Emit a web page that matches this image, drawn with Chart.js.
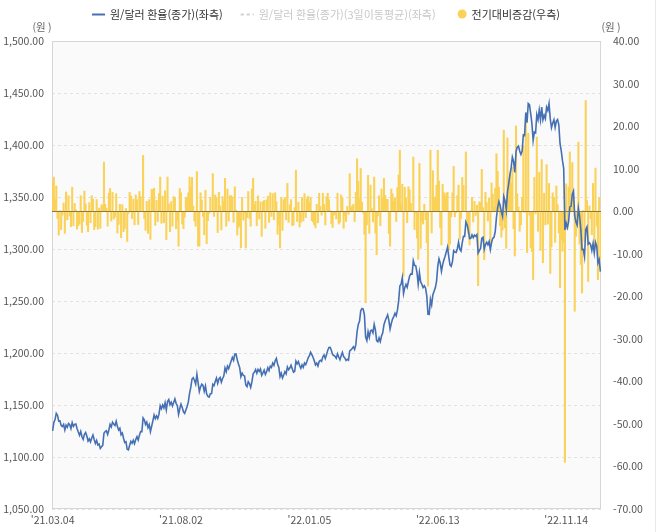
<!DOCTYPE html>
<html lang="ko">
<head>
    <meta charset="UTF-8">
    <title>원/달러 환율</title>
    <script src="https://cdn.jsdelivr.net/npm/chart.js@4.4.0/dist/chart.umd.min.js"></script>
    <style>
        body { margin: 0; background: #fff; }
    </style>
</head>
<body>
    <canvas id="myChart" width="658" height="532"></canvas>

    <script type="text/javascript">
        // Seoul FX market trading days, 2021.03.04 ~ 2022.12.22
        var startDate = '2021-03-04';
        var endDate = '2022-12-22';
        var holidays = ['2021-05-05', '2021-05-19', '2021-08-16', '2021-09-20', '2021-09-21', '2021-09-22',
            '2021-10-04', '2021-10-11', '2021-12-31', '2022-01-31', '2022-02-01', '2022-02-02', '2022-03-01',
            '2022-03-09', '2022-05-05', '2022-06-01', '2022-06-06', '2022-08-15', '2022-09-09', '2022-09-12',
            '2022-10-03', '2022-10-10'];
        var tickDates = ["'21.03.04", "'21.08.02", "'22.01.05", "'22.06.13", "'22.11.14"];

        // 원/달러 환율(종가)
        var closeRate = [
            1125.1,1133.2,1136.0,1142.0,1140.2,1134.5,1134.7,1130.3,1129.3,1131.3,1126.0,1130.6,1128.5,1132.2,1131.0,1127.3,1133.0,1129.5,1131.4,1131.8,
            1127.5,1124.0,1120.9,1124.6,1119.5,1117.0,1121.8,1123.6,1120.2,1115.3,1117.4,1114.6,1118.3,1121.2,1116.8,1113.1,1115.9,1111.6,1112.4,1108.3,1109.9,1111.2,
            1122.8,1124.5,1125.3,1121.7,1126.0,1131.4,1129.0,1133.5,1131.6,1130.2,1134.4,1129.2,1126.0,1127.7,1121.4,1123.0,1118.1,1113.9,1114.6,
            1107.4,1106.8,1111.3,1115.0,1113.2,1116.1,1112.8,1116.7,1119.5,1116.3,1121.0,1124.5,1124.4,1137.6,1135.8,1131.2,1133.6,1128.3,1131.1,1124.4,1129.6,1134.8,
            1140.3,1136.9,1139.5,1137.0,1141.2,1149.3,1146.4,1150.0,1147.2,1152.1,1145.3,1153.4,1155.2,1150.3,1152.6,1149.0,1152.5,1155.8,1151.6,1149.3,1141.0,1146.4,
            1150.8,1147.7,1143.5,1142.0,1145.2,1148.6,1153.0,1161.1,1166.9,1174.9,1176.2,1173.8,1170.2,1179.6,1171.3,1163.0,1167.4,1170.1,1168.8,1163.2,1168.2,
            1160.5,1158.2,1157.6,1160.9,1161.0,1169.9,1168.6,1172.5,1175.8,1170.7,1175.2,1176.5,1172.0,1175.5,1177.8,1185.6,1182.0,1187.3,1184.9,
            1188.6,1192.3,1195.7,1193.0,1198.8,1199.1,1193.4,1189.5,1186.0,1177.3,1180.6,1178.4,1177.9,1169.2,1167.6,1172.3,1170.5,1166.9,1172.2,
            1180.0,1181.6,1184.0,1180.5,1184.2,1182.3,1184.6,1178.6,1180.9,1183.5,1179.4,1182.1,1185.7,1183.0,1187.4,1186.1,1190.3,1188.2,1192.6,1194.9,1189.4,1186.0,
            1177.3,1180.6,1176.0,1178.8,1182.1,1180.0,1186.6,1183.9,1185.5,1188.3,1184.8,1181.5,1182.4,1192.1,1189.6,1191.8,1188.0,1185.3,1188.6,1186.2,1190.4,1188.8,
            1191.8,1195.4,1197.5,1200.8,1198.5,1195.9,1192.6,1188.6,1190.3,1187.5,1191.8,1193.0,1192.0,1196.3,1198.0,1194.7,1198.2,1202.5,1205.3,1205.5,
            1202.5,1198.6,1197.6,1196.9,1195.0,1199.3,1196.2,1193.5,1197.4,1200.6,1196.5,1195.3,1192.8,1194.0,1193.2,1202.1,1203.0,1204.3,
            1206.0,1203.5,1208.0,1220.4,1227.5,1230.5,1240.6,1242.8,1242.3,1236.8,1215.2,1211.9,1220.4,1215.1,1221.3,1222.0,1219.4,1227.5,1222.3,1212.0,1210.8,
            1214.5,1211.0,1216.3,1219.4,1227.2,1231.0,1233.9,1236.7,1231.4,1223.1,1228.4,1232.6,1235.0,1238.2,1235.7,1241.3,1249.9,1264.3,1266.1,1272.5,1257.1,
            1262.8,1266.0,1263.2,1269.0,1274.1,1276.0,1275.9,1288.7,1284.3,1283.8,1277.4,1266.0,1277.3,1268.5,1266.0,1262.9,1264.6,1262.5,1255.0,1237.3,1237.2,
            1251.6,1246.4,1256.0,1259.3,1262.7,1268.9,1283.3,1290.5,1286.6,1278.6,1285.0,1289.4,1293.0,1297.3,1301.8,1292.6,1284.8,1283.4,1287.8,1298.4,
            1297.0,1296.6,1300.3,1306.5,1299.8,1298.0,1306.0,1312.1,1312.1,1326.1,1323.4,1318.0,1310.0,1310.2,1313.5,1310.9,1313.3,1312.2,1313.7,1296.1,1298.4,
            1300.5,1310.4,1311.3,1299.8,1304.3,1306.4,1304.0,1307.2,1299.5,1306.2,1310.3,1311.3,1316.8,1330.4,1339.8,1345.5,1342.0,1335.8,1331.3,1350.4,1346.4,1337.6,
            1354.9,1362.6,1371.4,1378.0,1388.4,1384.2,1373.6,1393.7,1397.9,1399.0,1394.2,1390.9,1394.2,1409.7,1409.3,1431.3,1421.5,1439.9,1438.9,1430.2,
            1420.6,1404.4,1412.4,1411.7,1429.2,1424.4,1433.6,1424.3,1436.5,1424.3,1428.6,1425.3,1436.3,1433.2,1439.8,1425.1,1416.6,1421.0,1424.3,
            1416.9,1422.9,1424.5,1419.3,1401.2,1394.4,1384.9,1377.5,1318.4,1324.9,1320.6,1326.4,1340.4,1341.0,1352.5,1355.6,1332.0,1326.0,1322.9,1339.2,1331.4,1318.8,
            1299.5,1299.7,1292.6,1318.7,1321.3,1304.7,1306.0,1304.2,1298.6,1305.2,1296.2,1306.4,1302.8,1286.6,1289.9,1278.2
        ];

        // 전기대비증감
        var change = [
            7.0,8.1,2.8,6.0,-1.8,-5.7,0.2,-4.4,-1.0,2.0,-5.3,4.6,-2.1,3.7,-1.2,-3.7,5.7,-3.5,1.9,0.4,
            -4.3,-3.5,-3.1,3.7,-5.1,-2.5,4.8,1.8,-3.4,-4.9,2.1,-2.8,3.7,2.9,-4.4,-3.7,2.8,-4.3,0.8,-4.1,1.6,1.3,
            11.6,1.7,0.8,-3.6,4.3,5.4,-2.4,4.5,-1.9,-1.4,4.2,-5.2,-3.2,1.7,-6.3,1.6,-4.9,-4.2,0.7,
            -7.2,-0.6,4.5,3.7,-1.8,2.9,-3.3,3.9,2.8,-3.2,4.7,3.5,-0.1,13.2,-1.8,-4.6,2.4,-5.3,2.8,-6.7,5.2,5.2,
            5.5,-3.4,2.6,-2.5,4.2,8.1,-2.9,3.6,-2.8,4.9,-6.8,8.1,1.8,-4.9,2.3,-3.6,3.5,3.3,-4.2,-2.3,-8.3,5.4,
            4.4,-3.1,-4.2,-1.5,3.2,3.4,4.4,8.1,5.8,8.0,1.3,-2.4,-3.6,9.4,-8.3,-8.3,4.4,2.7,-1.3,-5.6,5.0,
            -7.7,-2.3,-0.6,3.3,0.1,8.9,-1.3,3.9,3.3,-5.1,4.5,1.3,-4.5,3.5,2.3,7.8,-3.6,5.3,-2.4,
            3.7,3.7,3.4,-2.7,5.8,0.3,-5.7,-3.9,-3.5,-8.7,3.3,-2.2,-0.5,-8.7,-1.6,4.7,-1.8,-3.6,5.3,
            7.8,1.6,2.4,-3.5,3.7,-1.9,2.3,-6.0,2.3,2.6,-4.1,2.7,3.6,-2.7,4.4,-1.3,4.2,-2.1,4.4,2.3,-5.5,-3.4,
            -8.7,3.3,-4.6,2.8,3.3,-2.1,6.6,-2.7,1.6,2.8,-3.5,-3.3,0.9,9.7,-2.5,2.2,-3.8,-2.7,3.3,-2.4,4.2,-1.6,
            3.0,3.6,2.1,3.3,-2.3,-2.6,-3.3,-4.0,1.7,-2.8,4.3,1.2,-1.0,4.3,1.7,-3.3,3.5,4.3,2.8,0.2,
            -3.0,-3.9,-1.0,-0.7,-1.9,4.3,-3.1,-2.7,3.9,3.2,-4.1,-1.2,-2.5,1.2,-0.8,8.9,0.9,1.3,
            1.7,-2.5,4.5,12.4,7.1,3.0,10.1,2.2,-0.5,-5.5,-21.6,-3.3,8.5,-5.3,6.2,0.7,-2.6,8.1,-5.2,-10.3,-1.2,
            3.7,-3.5,5.3,3.1,7.8,3.8,2.9,2.8,-5.3,-8.3,5.3,4.2,2.4,3.2,-2.5,5.6,8.6,14.4,1.8,6.4,-15.4,
            5.7,3.2,-2.8,5.8,5.1,1.9,-0.1,12.8,-4.4,-0.5,-6.4,-11.4,11.3,-8.8,-2.5,-3.1,1.7,-2.1,-7.5,-17.7,-0.1,
            14.4,-5.2,9.6,3.3,3.4,6.2,14.4,7.2,-3.9,-8.0,6.4,4.4,3.6,4.3,4.5,-9.2,-7.8,-1.4,4.4,10.6,
            -1.4,-0.4,3.7,6.2,-6.7,-1.8,8.0,6.1,0.0,14.0,-2.7,-5.4,-8.0,0.2,3.3,-2.6,2.4,-1.1,1.5,-17.6,2.3,
            2.1,9.9,0.9,-11.5,4.5,2.1,-2.4,3.2,-7.7,6.7,4.1,1.0,5.5,13.6,9.4,5.7,-3.5,-6.2,-4.5,19.1,-4.0,-8.8,
            17.3,7.7,8.8,6.6,10.4,-4.2,-10.6,20.1,4.2,1.1,-4.8,-3.3,3.3,15.5,-0.4,22.0,-9.8,18.4,-1.0,-8.7,
            -9.6,-16.2,8.0,-0.7,17.5,-4.8,9.2,-9.3,12.2,-12.2,4.3,-3.3,11.0,-3.1,6.6,-14.7,-8.5,4.4,3.3,
            -7.4,6.0,1.6,-5.2,-18.1,-6.8,-9.5,-7.4,-59.1,6.5,-4.3,5.8,14.0,0.6,11.5,3.1,-23.6,-6.0,-3.1,16.3,-7.8,-12.6,
            -19.3,0.2,-7.1,26.1,2.6,-16.6,1.3,-1.8,-5.6,6.6,-9.0,10.2,-3.6,-16.2,3.3,-11.7
        ];

        // build the category list of trading days
        var labels = [];
        var d = new Date(startDate + 'T00:00:00Z');
        var end = new Date(endDate + 'T00:00:00Z');
        while (d <= end) {
            var iso = d.toISOString().slice(0, 10);
            var wd = d.getUTCDay();
            if (wd !== 0 && wd !== 6 && holidays.indexOf(iso) < 0) {
                labels.push("'" + iso.slice(2, 4) + '.' + iso.slice(5, 7) + '.' + iso.slice(8, 10));
            }
            d.setUTCDate(d.getUTCDate() + 1);
        }

        var FONT = '"Noto Sans CJK KR", "Noto Sans", sans-serif';

        // plot background, frame, zero line, unit titles and legend
        var decorPlugin = {
            id: 'decor',
            beforeDraw: function(chart) {
                var a = chart.chartArea, ctx = chart.ctx;
                ctx.save();
                ctx.fillStyle = '#fafafa';
                ctx.fillRect(a.left, a.top, a.right - a.left, a.bottom - a.top);
                // outer frame line on the right
                ctx.strokeStyle = '#e8e8e8';
                ctx.beginPath();
                ctx.moveTo(655.5, 0);
                ctx.lineTo(655.5, chart.height);
                ctx.stroke();
                ctx.restore();
            },
            beforeDatasetsDraw: function(chart) {
                var a = chart.chartArea, ctx = chart.ctx;
                ctx.save();
                ctx.strokeStyle = '#d6d6d6';
                ctx.lineWidth = 1;
                ctx.strokeRect(a.left + 0.5, a.top + 0.5, a.right - a.left - 1, a.bottom - a.top - 1);
                ctx.restore();
            },
            afterDatasetDraw: function(chart, args) {
                if (args.meta.type !== 'bar') return;
                var a = chart.chartArea, ctx = chart.ctx;
                var y = Math.round(chart.scales.yR.getPixelForValue(0)) + 0.5;
                ctx.save();
                ctx.strokeStyle = '#8c7a3e';
                ctx.lineWidth = 1;
                ctx.beginPath();
                ctx.moveTo(a.left, y);
                ctx.lineTo(a.right, y);
                ctx.stroke();
                ctx.restore();
            },
            afterDraw: function(chart) {
                var ctx = chart.ctx, a = chart.chartArea;
                ctx.save();
                ctx.font = '10.5px ' + FONT;
                ctx.fillStyle = '#666';
                ctx.textAlign = 'center';
                ctx.textBaseline = 'middle';
                ctx.fillText('(원 )', 42, 27);
                ctx.fillText('(원 )', 611, 27);

                // legend
                ctx.font = '11px ' + FONT;
                ctx.textAlign = 'left';
                var sym = 13, gapSym = 5, gap = 18, y = 14;
                var ds = chart.data.datasets;
                var widths = ds.map(function(s) { return sym + gapSym + ctx.measureText(s.label).width; });
                var total = widths.reduce(function(p, c) { return p + c; }, 0) + gap * (ds.length - 1);
                var x = Math.round((a.left + a.right) / 2 - total / 2);
                ds.forEach(function(s, i) {
                    var faded = s.hidden;
                    if (s.type === 'bar') {
                        ctx.fillStyle = s.backgroundColor;
                        ctx.beginPath();
                        ctx.arc(x + sym / 2 + 2, y, 4.5, 0, Math.PI * 2);
                        ctx.fill();
                    } else {
                        ctx.strokeStyle = faded ? '#cfcfcf' : s.borderColor;
                        ctx.lineWidth = 2;
                        ctx.setLineDash(s.borderDash || []);
                        ctx.beginPath();
                        ctx.moveTo(x, y + 0.5);
                        ctx.lineTo(x + sym, y + 0.5);
                        ctx.stroke();
                        ctx.setLineDash([]);
                    }
                    ctx.fillStyle = faded ? '#c8c8c8' : '#333';
                    ctx.fillText(s.label, x + sym + gapSym, y + 1);
                    x += widths[i] + gap;
                });
                ctx.restore();
            }
        };

        var ctx = document.getElementById('myChart').getContext('2d');
        var chart = new Chart(ctx, {
            type: 'bar',
            data: {
                labels: labels,
                datasets: [{
                    type: 'line',
                    label: '원/달러 환율(종가)(좌측)',
                    data: closeRate,
                    yAxisID: 'yL',
                    borderColor: '#4670b4',
                    backgroundColor: '#4670b4',
                    borderWidth: 1.6,
                    pointRadius: 0,
                    tension: 0,
                    order: 0
                }, {
                    type: 'line',
                    label: '원/달러 환율(종가)(3일이동평균)(좌측)',
                    data: [],
                    hidden: true,
                    yAxisID: 'yL',
                    borderColor: '#9aa9c8',
                    borderDash: [3, 3],
                    pointRadius: 0,
                    order: 1
                }, {
                    type: 'bar',
                    label: '전기대비증감(우측)',
                    data: change,
                    yAxisID: 'yR',
                    backgroundColor: 'rgb(250, 210, 88)',
                    barPercentage: 1.7,
                    categoryPercentage: 1,
                    order: 2
                }]
            },
            options: {
                responsive: false,
                animation: false,
                layout: { padding: { top: 41, left: 0, right: 0, bottom: 0 } },
                plugins: {
                    legend: { display: false },
                    tooltip: { enabled: false }
                },
                scales: {
                    x: {
                        offset: true,
                        grid: { display: false, drawTicks: false },
                        border: { display: false },
                        afterFit: function(s) { s.height = 23; },
                        ticks: {
                            autoSkip: false,
                            maxRotation: 0,
                            minRotation: 0,
                            padding: 5,
                            color: '#555',
                            font: { family: FONT, size: 10.5 },
                            callback: function(value) {
                                var lab = this.getLabelForValue(value);
                                return tickDates.indexOf(lab) >= 0 ? lab : '';
                            }
                        }
                    },
                    yL: {
                        position: 'left',
                        min: 1050,
                        max: 1500,
                        grid: { color: '#e2e2e2', drawTicks: false },
                        border: { display: false, dash: [3, 3] },
                        afterFit: function(s) { s.width = 52; },
                        ticks: {
                            stepSize: 50,
                            padding: 8,
                            color: '#555',
                            font: { family: FONT, size: 10.5 },
                            callback: function(v) {
                                return v.toLocaleString('en-US', { minimumFractionDigits: 2, maximumFractionDigits: 2 });
                            }
                        }
                    },
                    yR: {
                        position: 'right',
                        min: -70,
                        max: 40,
                        grid: { display: false, drawTicks: false },
                        border: { display: false },
                        afterFit: function(s) { s.width = 57; },
                        ticks: {
                            stepSize: 10,
                            padding: 12,
                            color: '#555',
                            font: { family: FONT, size: 10.5 },
                            callback: function(v) { return v.toFixed(2); }
                        }
                    }
                }
            },
            plugins: [decorPlugin]
        });
    </script>
</body>
</html>
